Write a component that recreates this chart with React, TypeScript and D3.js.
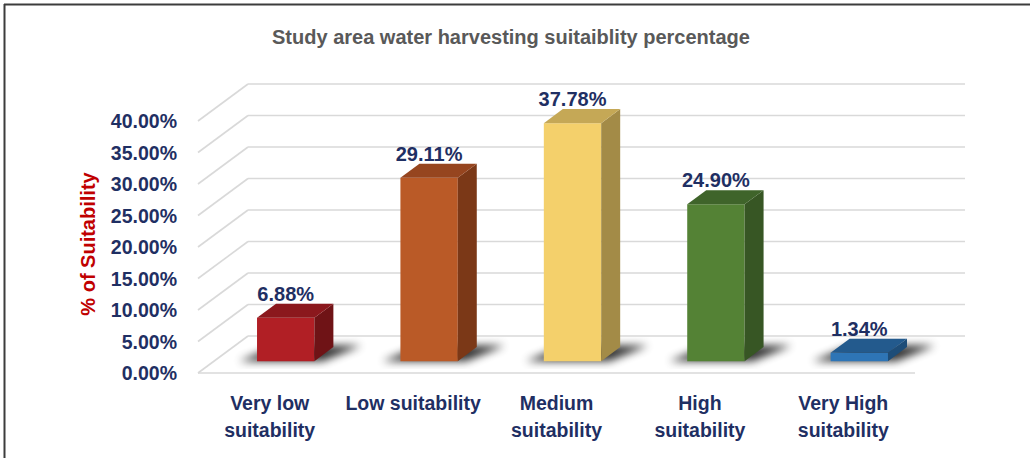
import React from 'react';
import * as d3 from 'd3';

const categories = ['Very low suitability', 'Low suitability', 'Medium suitability', 'High suitability', 'Very High suitability'];
const categoryLines = [['Very low', 'suitability'], ['Low suitability'], ['Medium', 'suitability'], ['High', 'suitability'], ['Very High', 'suitability']];
const values = [6.88, 29.11, 37.78, 24.9, 1.34];
const valueLabels = ['6.88%', '29.11%', '37.78%', '24.90%', '1.34%'];
const yTicks = [0, 5, 10, 15, 20, 25, 30, 35, 40];
const tickLabels = ['0.00%', '5.00%', '10.00%', '15.00%', '20.00%', '25.00%', '30.00%', '35.00%', '40.00%'];
const frontColors = ['#b11f25', '#ba5a27', '#f4d06b', '#548235', '#2e75b6'];
const topColors = ['#8b181d', '#96451f', '#c5a856', '#3f642a', '#235a8d'];
const sideColors = ['#6f1316', '#7b3817', '#a38b47', '#375624', '#1e4d78'];

const W = 1030;
const H = 458;
const FONT = "'Liberation Sans', Arial, sans-serif";
const NAVY = '#1f2f63';

export default function App() {
  const floorLeft = 198;
  const floorRight = 915;
  const depthX = 50;
  const depthY = 37;
  const d0 = 0.32;
  const d1 = 0.7;

  const y = d3.scaleLinear().domain([0, 40]).range([373, 121]);
  const x = d3.scaleBand<string>().domain(categories).range([floorLeft, floorRight]).padding(0);
  const barW = x.bandwidth() * 0.4;

  const P = (xf: number, v: number, d: number): [number, number] => [xf + depthX * d, y(v) - depthY * d];
  const poly = (pts: [number, number][]) => pts.map((p) => p.join(',')).join(' ');

  return (
    <svg width={W} height={H} style={{ position: 'absolute', left: 0, top: 0, background: '#fff' }}>
      <defs>
        <filter id="shadowBlur" x="-50%" y="-50%" width="200%" height="200%">
          <feGaussianBlur stdDeviation="4" />
        </filter>
      </defs>
      <rect x={0} y={0} width={W} height={H} fill="#fff" />
      {/* border */}
      <line x1={4} y1={4.5} x2={W} y2={4.5} stroke="#3c3c3c" strokeWidth={2} />
      <line x1={4.5} y1={4} x2={4.5} y2={H} stroke="#3c3c3c" strokeWidth={2} />

      {/* title */}
      <text x={511} y={44} textAnchor="middle" fontFamily={FONT} fontWeight="bold" fontSize={20} fill="#595959">
        Study area water harvesting suitaiblity percentage
      </text>

      {/* gridlines */}
      {yTicks.map((t) => {
        const a = P(floorLeft, t, 0);
        const b = P(floorLeft, t, 1);
        const c = P(floorRight, t, 1);
        return (
          <g key={t}>
            <line x1={a[0]} y1={a[1]} x2={b[0]} y2={b[1]} stroke="#d9d9d9" strokeWidth={1.6} />
            <line x1={b[0]} y1={b[1]} x2={c[0]} y2={c[1]} stroke="#d9d9d9" strokeWidth={1.6} />
          </g>
        );
      })}
      {(() => {
        const a = P(floorLeft, 0, 0);
        const b = P(floorRight, 0, 0);
        return <line x1={a[0]} y1={a[1]} x2={b[0]} y2={b[1]} stroke="#d9d9d9" strokeWidth={1.6} />;
      })()}

      {/* tick labels */}
      {yTicks.map((t, i) => (
        <text key={t} x={177} y={y(t) + 7} textAnchor="end" fontFamily={FONT} fontWeight="bold" fontSize={19.5} fill={NAVY}>
          {tickLabels[i]}
        </text>
      ))}

      {/* y axis title */}
      <text
        transform={`translate(95,${244}) rotate(-90)`}
        textAnchor="middle"
        fontFamily={FONT}
        fontWeight="bold"
        fontSize={20}
        fill="#c00000"
      >
        % of Suitability
      </text>

      {/* shadows */}
      {categories.map((c, i) => {
        const xl = (x(c) as number) + (x.bandwidth() - barW) / 2;
        const xr = xl + barW;
        return (
          <polygon
            key={'s' + i}
            points={poly([P(xl - 18, 0, d0), P(xr + 8, 0, d0), P(xr + 26, 0, d1 + 0.04), P(xl, 0, d1 + 0.04)])}
            fill="#000"
            opacity={0.8}
            filter="url(#shadowBlur)"
          />
        );
      })}

      {/* bars */}
      {categories.map((c, i) => {
        const v = values[i];
        const xl = (x(c) as number) + (x.bandwidth() - barW) / 2;
        const xr = xl + barW;
        const front = poly([P(xl, 0, d0), P(xr, 0, d0), P(xr, v, d0), P(xl, v, d0)]);
        const top = poly([P(xl, v, d0), P(xr, v, d0), P(xr, v, d1), P(xl, v, d1)]);
        const side = poly([P(xr, 0, d0), P(xr, 0, d1), P(xr, v, d1), P(xr, v, d0)]);
        const labelPos = P((xl + xr) / 2, v, d0);
        const backTop = P(xl, v, d1);
        return (
          <g key={'b' + i}>
            <polygon points={front} fill={frontColors[i]} />
            <polygon points={side} fill={sideColors[i]} />
            <polygon points={top} fill={topColors[i]} />
            <text
              x={labelPos[0]}
              y={backTop[1] - 3}
              textAnchor="middle"
              fontFamily={FONT}
              fontWeight="bold"
              fontSize={20}
              fill={NAVY}
            >
              {valueLabels[i]}
            </text>
          </g>
        );
      })}

      {/* category labels */}
      {categories.map((c, i) => (
        <text key={'c' + i} textAnchor="middle" fontFamily={FONT} fontWeight="bold" fontSize={19.5} fill={NAVY}>
          {categoryLines[i].map((line, j) => (
            <tspan key={j} x={(x(c) as number) + x.bandwidth() / 2} y={410 + j * 27}>
              {line}
            </tspan>
          ))}
        </text>
      ))}
    </svg>
  );
}
